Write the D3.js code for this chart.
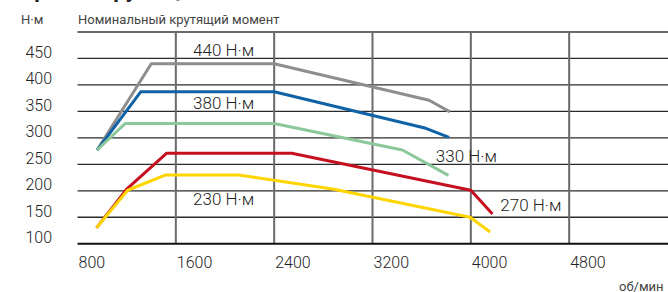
<!DOCTYPE html>
<html>
<head>
<meta charset="utf-8">
<script src="https://cdn.jsdelivr.net/npm/d3@7"></script>
<style>
  body { margin: 0; background: #fff; }
  svg { display: block; font-family: Roboto, "Liberation Sans", sans-serif; }
</style>
</head>
<body>
<div id="canvas"></div>
<script>
const xTicks = [800, 1600, 2400, 3200, 4000, 4800];
const yTicks = [100, 150, 200, 250, 300, 350, 400, 450];

const rpm440 = [960, 1400, 2400, 3660, 3830];
const nm440 = [277, 440, 440, 371, 349];

const rpm380 = [960, 1314, 2400, 3634, 3823];
const nm380 = [277, 387, 387, 318, 301];

const rpm330 = [960, 1187, 2400, 3443, 3818];
const nm330 = [277, 327, 327, 277, 229];

const rpm270 = [955, 1200, 1526, 2543, 4000, 4176];
const nm270 = [130, 203, 271, 271, 201, 156];

const rpm230 = [955, 1208, 1518, 2109, 2887, 3994, 4157];
const nm230 = [130, 201, 230, 230, 203, 150, 122];

const series = [
  { rpm: rpm440, nm: nm440, color: "#8e8e8e", label: "440 Н·м", lx: 1740, ly: 455 },
  { rpm: rpm380, nm: nm380, color: "#0f62a6", label: "380 Н·м", lx: 1740, ly: 354 },
  { rpm: rpm330, nm: nm330, color: "#8dc89b", label: "330 Н·м", lx: 3715, ly: 254 },
  { rpm: rpm270, nm: nm270, color: "#c5101f", label: "270 Н·м", lx: 4240, ly: 161 },
  { rpm: rpm230, nm: nm230, color: "#ffd500", label: "230 Н·м", lx: 1740, ly: 173 },
];

const width = 668;
const height = 292;

const svg = d3.select("#canvas").append("svg").attr("width", width).attr("height", height);

const x = d3.scaleLinear().domain([800, 5600]).range([77.5, 667.5]);
const y = d3.scaleLinear().domain([100, 500]).range([243.7, 32]);

// clipped title at the very top
svg.append("text").attr("x", 20).attr("y", -3)
  .style("font-size", "22px").style("font-weight", "bold").attr("fill", "#222")
  .text("Кривая крутящего момента");

svg.append("text").attr("x", 21).attr("y", 24).style("font-size", "13px").attr("fill", "#444").text("Н·м");
svg.append("text").attr("x", 78).attr("y", 24).style("font-size", "13px").attr("fill", "#444")
  .text("Номинальный крутящий момент");

// horizontal grid
const grid = svg.append("g");
grid.selectAll("line.h").data(yTicks.filter((d) => d > 100)).enter().append("line")
  .attr("x1", x(800)).attr("x2", width)
  .attr("y1", (d) => y(d)).attr("y2", (d) => y(d))
  .attr("stroke", "#2b2b2b").attr("stroke-width", 1.3);

// vertical grid
grid.selectAll("line.v").data(xTicks.filter((d) => d > 800)).enter().append("line")
  .attr("x1", (d) => x(d)).attr("x2", (d) => x(d))
  .attr("y1", y(500)).attr("y2", y(100))
  .attr("stroke", "#6a6a6a").attr("stroke-width", 2);

// top border
grid.append("line").attr("x1", x(800)).attr("x2", width).attr("y1", y(500)).attr("y2", y(500))
  .attr("stroke", "#6a6a6a").attr("stroke-width", 2);

// bottom axis line
grid.append("line").attr("x1", x(800)).attr("x2", width).attr("y1", y(100)).attr("y2", y(100))
  .attr("stroke", "#111").attr("stroke-width", 2);

// y tick labels (baseline on the grid line)
svg.append("g").selectAll("text").data(yTicks).enter().append("text")
  .attr("x", 52).attr("y", (d) => y(d) - 0.5)
  .attr("text-anchor", "end").style("font-size", "16px").style("font-weight", 300).attr("fill", "#222")
  .text((d) => d);

// x tick labels (left aligned to grid line)
svg.append("g").selectAll("text").data(xTicks).enter().append("text")
  .attr("x", (d) => x(d) + 1).attr("y", 268)
  .style("font-size", "16px").style("font-weight", 300).attr("fill", "#222")
  .text((d) => d);

svg.append("text").attr("x", 619).attr("y", 291).style("font-size", "13px").attr("fill", "#444").text("об/мин");

// curves
const line = d3.line().x((d) => x(d[0])).y((d) => y(d[1]));

series.forEach((s) => {
  const pts = s.rpm.map((r, i) => [r, s.nm[i]]);
  svg.append("path").datum(pts)
    .attr("d", line)
    .attr("fill", "none")
    .attr("stroke", s.color)
    .attr("stroke-width", 3)
    .attr("stroke-linejoin", "round");
});

// labels
series.forEach((s) => {
  svg.append("text").attr("x", x(s.lx)).attr("y", y(s.ly))
    .style("font-size", "17px").style("font-weight", 300).attr("fill", "#222")
    .text(s.label);
});
</script>
</body>
</html>
